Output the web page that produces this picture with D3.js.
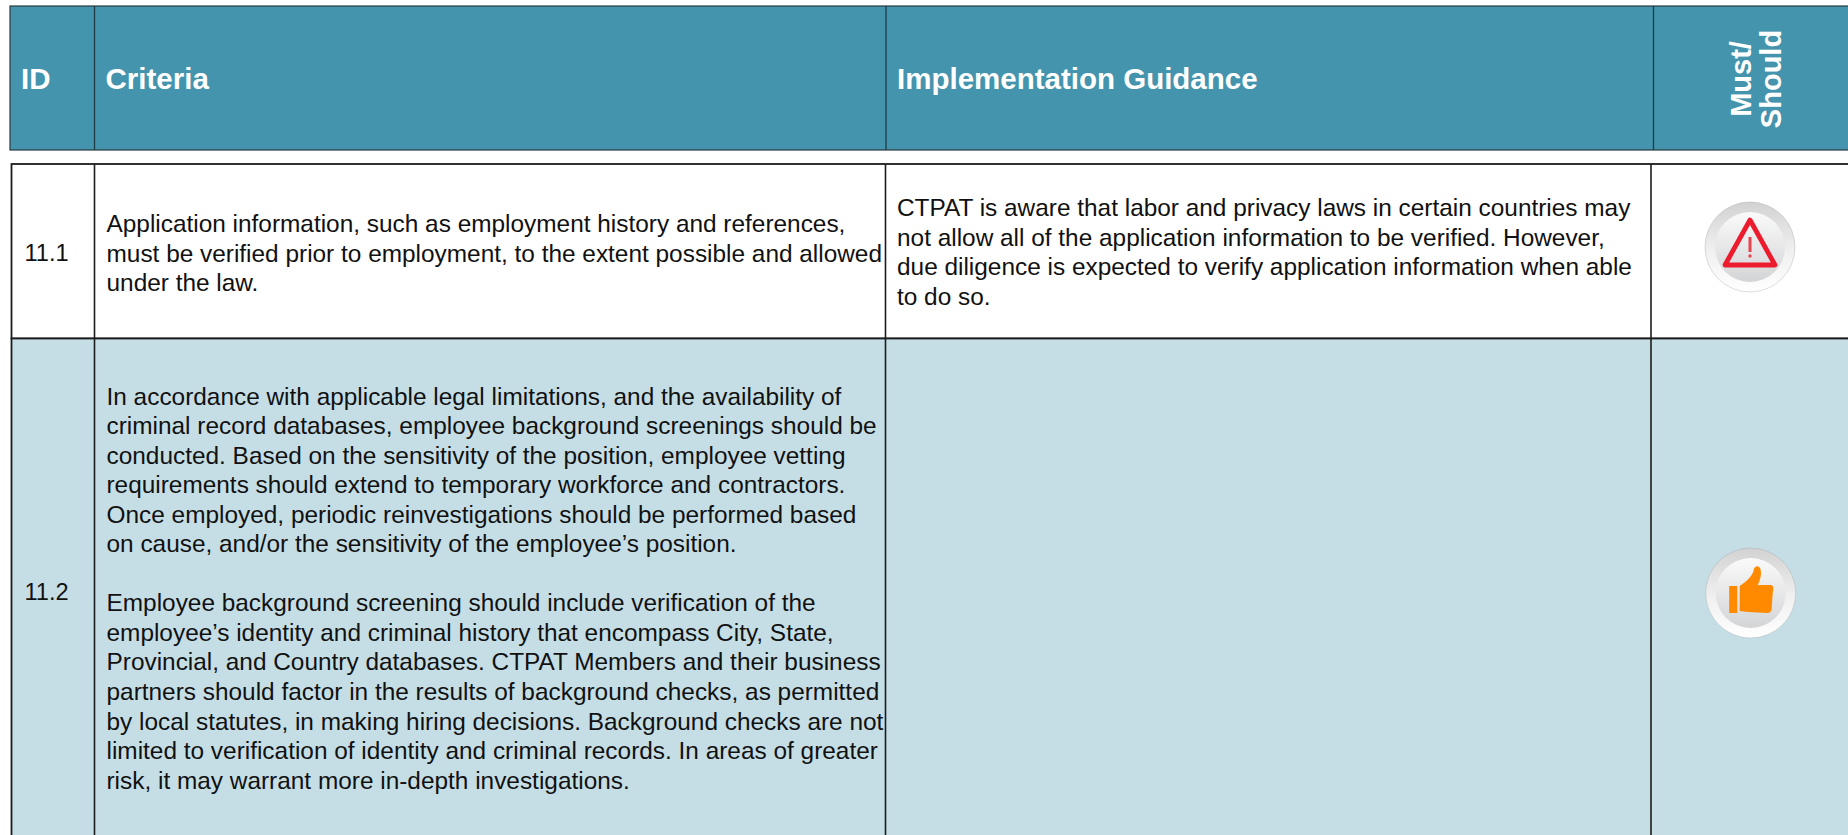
<!DOCTYPE html>
<html>
<head>
<meta charset="utf-8">
<script src="https://cdn.jsdelivr.net/npm/d3@7"></script>
<style>
  html, body { margin: 0; padding: 0; background: #fff; overflow: hidden; }
  text { font-family: "Liberation Sans", Arial, sans-serif; }
</style>
</head>
<body>
<div id="chart"></div>
<script>
// table content
var headers = ["ID", "Criteria", "Implementation Guidance"];
var headerRotated = ["Must/", "Should"];
var ids = ["11.1", "11.2"];
var icons = ["warning", "thumb"];

var criteria = [
  [
    "Application information, such as employment history and references,",
    "must be verified prior to employment, to the extent possible and allowed",
    "under the law."
  ],
  [
    "In accordance with applicable legal limitations, and the availability of",
    "criminal record databases, employee background screenings should be",
    "conducted. Based on the sensitivity of the position, employee vetting",
    "requirements should extend to temporary workforce and contractors.",
    "Once employed, periodic reinvestigations should be performed based",
    "on cause, and/or the sensitivity of the employee’s position.",
    "",
    "Employee background screening should include verification of the",
    "employee’s identity and criminal history that encompass City, State,",
    "Provincial, and Country databases. CTPAT Members and their business",
    "partners should factor in the results of background checks, as permitted",
    "by local statutes, in making hiring decisions. Background checks are not",
    "limited to verification of identity and criminal records. In areas of greater",
    "risk, it may warrant more in-depth investigations."
  ]
];

var guidance = [
  [
    "CTPAT is aware that labor and privacy laws in certain countries may",
    "not allow all of the application information to be verified. However,",
    "due diligence is expected to verify application information when able",
    "to do so."
  ],
  []
];

// layout
var svgWidth = 1848;
var svgHeight = 835;
var headerX = [10, 94.5, 886, 1653.5, 1848];
var bodyX = [11.5, 94.5, 885.5, 1651, 1848];
var headerY = [6, 150];
var rowY = [164, 338.5, 835];
var lineHeight = 29.55;
var padLeft = 11;

var svg = d3.select("#chart")
  .append("svg")
  .attr("width", svgWidth)
  .attr("height", svgHeight)
  .style("display", "block");

var defs = svg.append("defs");

// button gradients
var ring = defs.append("linearGradient")
  .attr("id", "ring").attr("x1", 0).attr("y1", 0).attr("x2", 0).attr("y2", 1);
ring.append("stop").attr("offset", "0%").attr("stop-color", "#d2d2d2");
ring.append("stop").attr("offset", "55%").attr("stop-color", "#f0f0f0");
ring.append("stop").attr("offset", "100%").attr("stop-color", "#ffffff");

var face = defs.append("linearGradient")
  .attr("id", "face").attr("x1", 0).attr("y1", 0).attr("x2", 0).attr("y2", 1);
face.append("stop").attr("offset", "0%").attr("stop-color", "#fafafa");
face.append("stop").attr("offset", "100%").attr("stop-color", "#d3d4d6");

// header band
svg.append("rect")
  .attr("x", headerX[0])
  .attr("y", headerY[0])
  .attr("width", svgWidth - headerX[0] + 2)
  .attr("height", headerY[1] - headerY[0])
  .attr("fill", "#4594ad")
  .attr("stroke", "#2b3a40")
  .attr("stroke-width", 1.2);

svg.selectAll(".header-line")
  .data(headerX.slice(1, 4))
  .enter()
  .append("line")
  .attr("class", "header-line")
  .attr("x1", d => d)
  .attr("x2", d => d)
  .attr("y1", headerY[0])
  .attr("y2", headerY[1])
  .attr("stroke", "#1f3a44")
  .attr("stroke-width", 1.3);

svg.selectAll(".header-text")
  .data(headers)
  .enter()
  .append("text")
  .attr("class", "header-text")
  .attr("x", (d, i) => i == 0 ? 21 : headerX[i] + padLeft)
  .attr("y", 89)
  .attr("fill", "#fff")
  .attr("font-size", 29.5)
  .attr("font-weight", "bold")
  .text(d => d);

svg.selectAll(".header-rotated")
  .data(headerRotated)
  .enter()
  .append("text")
  .attr("class", "header-rotated")
  .attr("transform", (d, i) => `translate(${1750.5 + i * 30.5}, 79) rotate(-90)`)
  .attr("text-anchor", "middle")
  .attr("fill", "#fff")
  .attr("font-size", 29)
  .attr("font-weight", "bold")
  .text(d => d);

// rows
var rows = svg.selectAll(".row")
  .data(ids)
  .enter()
  .append("g")
  .attr("class", "row");

rows.append("rect")
  .attr("x", bodyX[0])
  .attr("y", (d, i) => rowY[i])
  .attr("width", svgWidth - bodyX[0] + 2)
  .attr("height", (d, i) => rowY[i + 1] - rowY[i] + (i == 1 ? 3 : 0))
  .attr("fill", (d, i) => i == 0 ? "#fff" : "#c5dee6")
  .attr("stroke", "#1c1c1c")
  .attr("stroke-width", 1.8);

svg.selectAll(".row-line")
  .data(bodyX.slice(1, 4))
  .enter()
  .append("line")
  .attr("class", "row-line")
  .attr("x1", d => d)
  .attr("x2", d => d)
  .attr("y1", rowY[0])
  .attr("y2", rowY[2])
  .attr("stroke", "#1c1c1c")
  .attr("stroke-width", 1.6);

rows.append("text")
  .attr("x", 46.5)
  .attr("y", (d, i) => i == 0 ? 261 : 600)
  .attr("text-anchor", "middle")
  .attr("fill", "#111")
  .attr("font-size", 23.6)
  .text(d => d);

// wrapped text block for a column, baseline of first line given
function drawLines(lines, x, firstBaseline) {
  svg.append("text")
    .attr("fill", "#111")
    .attr("font-size", 24.4)
    .selectAll("tspan")
    .data(lines)
    .enter()
    .append("tspan")
    .attr("x", x)
    .attr("y", (d, i) => firstBaseline + i * lineHeight)
    .text(d => d);
}

drawLines(criteria[0], 106.5, 232);
drawLines(criteria[1], 106.5, 404.5);
drawLines(guidance[0], 897, 216);

// icons
var warnCenter = [1750, 247];
var thumbCenter = [1750.7, 593];
var radius = 45;

var iconGroups = svg.selectAll(".icon")
  .data(icons)
  .enter()
  .append("g")
  .attr("class", "icon")
  .attr("transform", (d, i) => {
    var c = i == 0 ? warnCenter : thumbCenter;
    return `translate(${c[0]}, ${c[1]})`;
  });

iconGroups.append("circle")
  .attr("r", radius)
  .attr("fill", "url(#ring)")
  .attr("stroke", "#9aa0a3")
  .attr("stroke-opacity", 0.35)
  .attr("stroke-width", 1);

iconGroups.append("circle")
  .attr("r", radius - 10)
  .attr("fill", "url(#face)");

var warn = iconGroups.filter(d => d == "warning");
warn.append("path")
  .attr("d", "M0,-27 L25,18 L-25,18 Z")
  .attr("fill", "none")
  .attr("stroke", "#ec1c2e")
  .attr("stroke-width", 4.8)
  .attr("stroke-linejoin", "round");
warn.append("path")
  .attr("d", "M0,-10 L0,5")
  .attr("stroke", "#e8434f")
  .attr("stroke-width", 3);
warn.append("circle")
  .attr("cy", 9)
  .attr("r", 1.7)
  .attr("fill", "#e8434f");

var thumb = iconGroups.filter(d => d == "thumb");
thumb.append("rect")
  .attr("x", -21.5)
  .attr("y", -7)
  .attr("width", 8)
  .attr("height", 27)
  .attr("fill", "#ff8a00");
thumb.append("path")
  .attr("d", "M-11,-7 C-3,-12 2,-18 3,-23 C4,-28 9,-28 10,-23 C11,-17 9,-12 7,-8 L20,-8 C23,-8 23,-4 22,0 L21,15 C21,19 19,20 16,20 L-2,19 C-6,19 -9,18 -11,18 Z")
  .attr("fill", "#ff8a00");
</script>
</body>
</html>
